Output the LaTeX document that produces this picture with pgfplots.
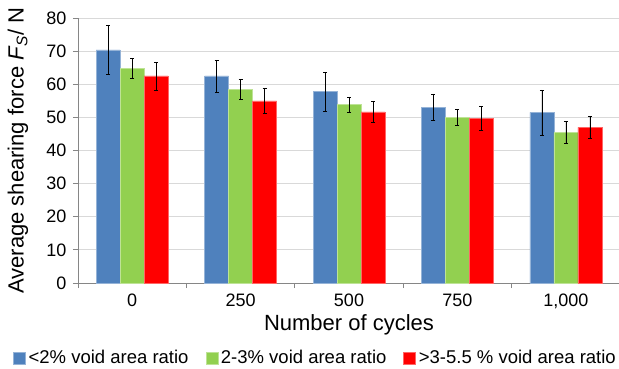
\documentclass[border=0pt]{standalone}
\usepackage{pgfplots}
\pgfplotsset{compat=1.18}
\usepackage{pgfplotstable}
\usepackage{fontspec}
\setmainfont{Liberation Sans}
\definecolor{cblue}{HTML}{4F81BD}
\definecolor{cgreen}{HTML}{92D050}
\definecolor{cred}{HTML}{FF0000}
\definecolor{gridc}{HTML}{D9D9D9}
\definecolor{axc}{HTML}{868686}
\pgfplotstableread{
x y e
0 70.4 7.5
1 62.5 4.8
2 57.8 5.9
3 53.1 4.0
4 51.5 6.8
}\tblA
\pgfplotstableread{
x y e
0 64.8 3.1
1 58.4 3.0
2 53.9 2.3
3 50.0 2.5
4 45.4 3.3
}\tblB
\pgfplotstableread{
x y e
0 62.5 4.2
1 55.0 3.8
2 51.7 3.2
3 49.7 3.6
4 47.0 3.3
}\tblC
\begin{document}
\begin{tikzpicture}
\begin{axis}[
  scale only axis,
  width=542pt, height=265pt,
  at={(78pt,85pt)}, anchor=south west,
  xmin=-0.5, xmax=4.5, ymin=0, ymax=80,
  ybar=0pt, bar width=24pt,
  axis x line*=bottom, axis y line*=left,
  axis line style={draw=axc, line width=0.8pt},
  ytick={0,10,...,80},
  ymajorgrids, grid style={draw=gridc, line width=0.8pt},
  tick align=outside,
  major tick length=5pt,
  tick style={draw=axc, line width=0.8pt},
  xtick={-0.5,0.5,...,4.5}, xticklabels={},
  extra x ticks={0,1,2,3,4},
  extra x tick labels={0,250,500,750,{1,000}},
  extra x tick style={major tick length=0pt, grid=none},
  /pgf/number format/assume math mode=true,
  ticklabel style={font=\fontsize{18}{21}\selectfont, text=black},
  xticklabel style={yshift=-7pt},
  yticklabel style={xshift=-3pt},
  xlabel={Number of cycles},
  xlabel style={font=\fontsize{22}{26}\selectfont, at={(axis description cs:0.5,-0.1585)}, anchor=center},
  ylabel={Average shearing force \textit{F}\textsubscript{\textit{S}}/ N},
  ylabel style={font=\fontsize{22}{26}\selectfont, at={(axis description cs:-0.1107,0.5)}, anchor=center},
  legend columns=3,
  legend style={at={(axis description cs:-0.1199,-0.2830)}, anchor=west, draw=none, fill=none, inner sep=0pt,
    nodes={inner sep=1pt},
    font=\fontsize{18.5}{22}\selectfont, /tikz/every even column/.append style={column sep=16pt},
    /tikz/every odd column/.append style={column sep=2pt}},
  legend image code/.code={\fill[#1] (0pt,-6pt) rectangle (12pt,6pt);},
  error bars/y dir=both, error bars/y explicit,
  error bars/error mark options={rotate=90, mark size=2pt, line width=0.6pt, black},
  error bars/error bar style={line width=0.6pt, black},
]
\addplot[fill=cblue, draw=cblue!60!white] table[x=x, y=y, y error=e] {\tblA};
\addplot[fill=cgreen, draw=cgreen!60!white] table[x=x, y=y, y error=e] {\tblB};
\addplot[fill=cred, draw=cred!60!white] table[x=x, y=y, y error=e] {\tblC};
\legend{<2\% void area ratio, 2-3\% void area ratio, >3-5.5 \% void area ratio}
\end{axis}
\pgfresetboundingbox
\path[use as bounding box] (0,0) rectangle (619pt,368pt);
\end{tikzpicture}
\end{document}
